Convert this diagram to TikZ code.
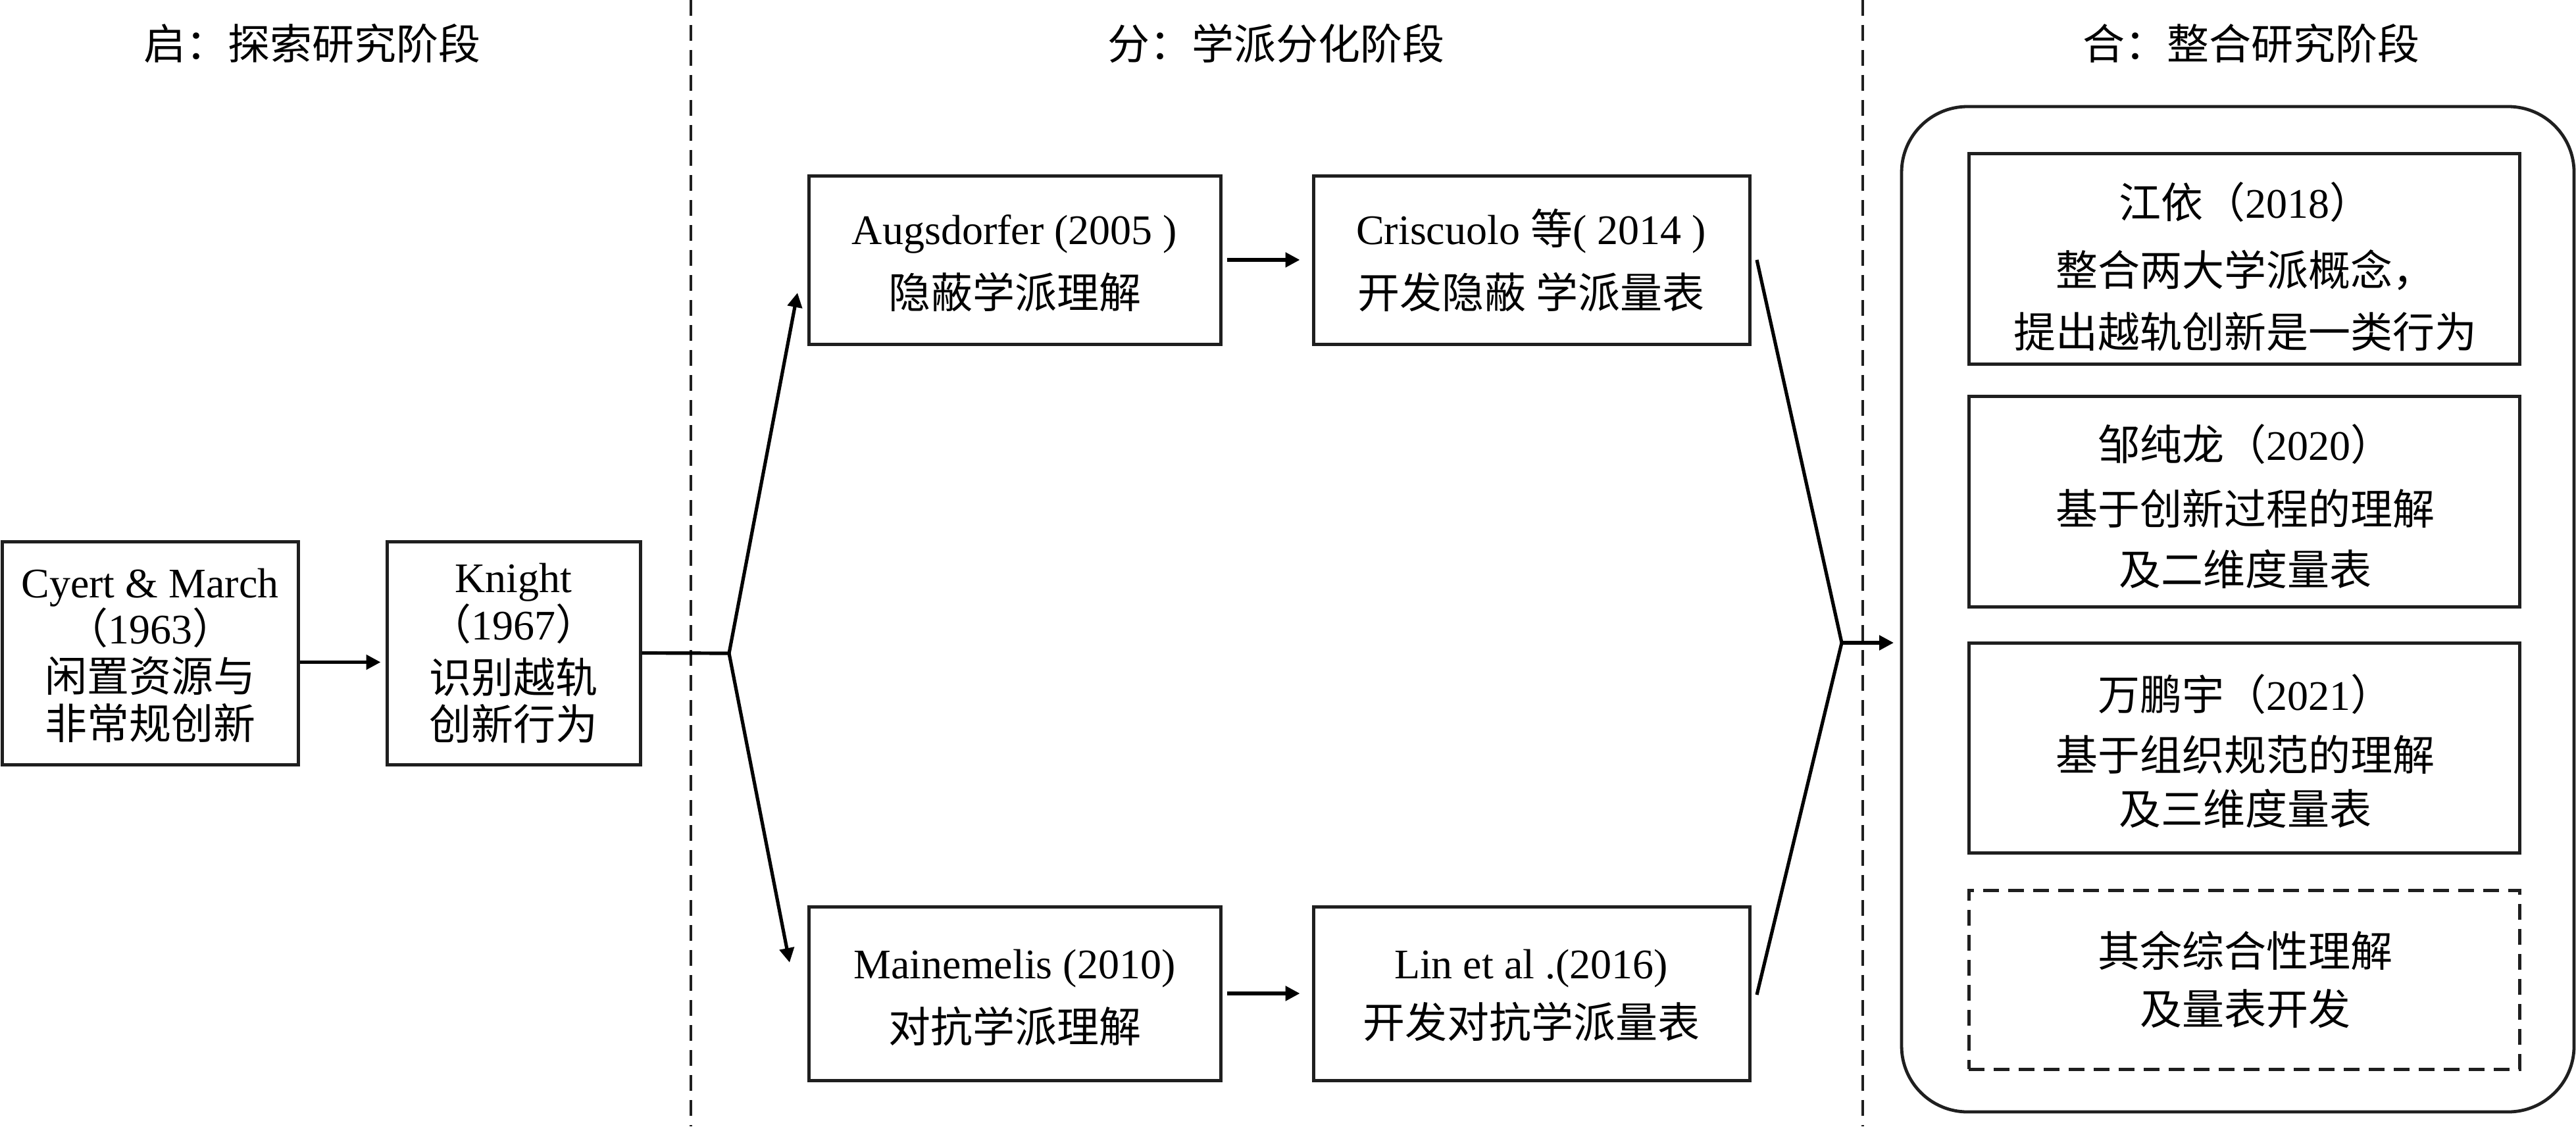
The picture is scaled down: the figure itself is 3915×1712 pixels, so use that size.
\documentclass[tikz,border=0pt]{standalone}
\usepackage{fontspec}
\setmainfont{Liberation Serif}
\newfontfamily\cjk{Noto Sans CJK SC}
\newcommand\zh[1]{{\cjk #1}}
\usetikzlibrary{arrows.meta,fit}
\newcommand\tl[4]{\node[txt] (#1) at (#2,#3) {#4};}
\begin{document}
\begin{tikzpicture}[x=0.25pt,y=-0.25pt,
  box/.style={draw=black!88, line width=1.25pt, inner sep=0pt},
  dbox/.style={box, dash pattern=on 6pt off 3.5pt},
  conn/.style={draw=black, line width=1.3pt},
  arr/.style={conn, -{Triangle[length=5.5pt,width=5.5pt]}},
  divider/.style={draw=black!88, line width=1.2pt, dash pattern=on 6pt off 3.5pt},
  txt/.style={anchor=base, inner sep=0pt, font=\fontsize{16}{19}\selectfont}
  ]
\useasboundingbox (0,0) rectangle (3915,1712);

% headers
\tl{h1}{474}{91}{\zh{启：探索研究阶段}}
\tl{h2}{1939}{91}{\zh{分：学派分化阶段}}
\tl{h3}{3421}{91}{\zh{合：整合研究阶段}}

% dividers
\coordinate (d1t) at (1050,0);
\coordinate (d1b) at (1050,1712);
\coordinate (d2t) at (2831,0);
\coordinate (d2b) at (2831,1712);
\draw[divider] (d1t) -- (d1b);
\draw[divider] (d2t) -- (d2b);

% stage 1
\node[box, fit={(3,823) (453,1162)}] (cyert) {};
\tl{cyert-1}{228}{908}{Cyert \& March}
\tl{cyert-2}{228}{978}{\zh{（}1963\zh{）}}
\tl{cyert-3}{228}{1051}{\zh{闲置资源与}}
\tl{cyert-4}{228}{1123}{\zh{非常规创新}}
\node[box, fit={(588,823) (973,1162)}] (knight) {};
\tl{knight-1}{780}{900}{Knight}
\tl{knight-2}{780}{972}{\zh{（}1967\zh{）}}
\tl{knight-3}{780}{1053}{\zh{识别越轨}}
\tl{knight-4}{780}{1124}{\zh{创新行为}}

% stage 2
\node[box, fit={(1229,267) (1855,523)}] (aug) {};
\tl{aug-1}{1542}{371}{Augsdorfer (2005 )}
\tl{aug-2}{1542}{468}{\zh{隐蔽学派理解}}
\node[box, fit={(1996,267) (2659,523)}] (cris) {};
\tl{cris-1}{2327}{371}{Criscuolo \zh{等}( 2014 )}
\tl{cris-2}{2327}{468}{\zh{开发隐蔽 学派量表}}
\node[box, fit={(1229,1378) (1855,1642)}] (main) {};
\tl{main-1}{1542}{1487}{Mainemelis (2010)}
\tl{main-2}{1542}{1584}{\zh{对抗学派理解}}
\node[box, fit={(1996,1378) (2659,1642)}] (lin) {};
\tl{lin-1}{2327}{1487}{Lin et al .(2016)}
\tl{lin-2}{2327}{1577}{\zh{开发对抗学派量表}}

% stage 3
\node[draw=black!88, line width=1.2pt, rounded corners=25pt, inner sep=0pt,
  fit={(2890,162) (3912,1690)}] (big) {};
\node[box, fit={(2992,234) (3829,553)}] (b1) {};
\tl{b1-1}{3412}{331}{\zh{江依（}2018\zh{）}}
\tl{b1-2}{3412}{434}{\zh{整合两大学派概念，}}
\tl{b1-3}{3412}{528}{\zh{提出越轨创新是一类行为}}
\node[box, fit={(2992,602) (3829,922)}] (b2) {};
\tl{b2-1}{3412}{699}{\zh{邹纯龙（}2020\zh{）}}
\tl{b2-2}{3412}{797}{\zh{基于创新过程的理解}}
\tl{b2-3}{3412}{889}{\zh{及二维度量表}}
\node[box, fit={(2992,977) (3829,1296)}] (b3) {};
\tl{b3-1}{3412}{1079}{\zh{万鹏宇（}2021\zh{）}}
\tl{b3-2}{3412}{1171}{\zh{基于组织规范的理解}}
\tl{b3-3}{3412}{1253}{\zh{及三维度量表}}
\node[dbox, fit={(2992,1353) (3829,1625)}] (b4) {};
\tl{b4-1}{3412}{1469}{\zh{其余综合性理解}}
\tl{b4-2}{3412}{1557}{\zh{及量表开发}}

% connector points
\coordinate (split) at (1108,993);
\coordinate (augin) at (1212,445);
\coordinate (mainin) at (1200,1463);
\coordinate (crisout) at (2670,395);
\coordinate (linout) at (2670,1512);
\coordinate (merge) at (2799,977);
\coordinate (bigin) at (2878,977);

% connectors
\draw[arr, shorten >=1.75pt] ([yshift=-3.5pt]cyert.east) -- ([yshift=-3.5pt]knight.west);
\draw[conn] (knight.east) -- (split);
\draw[arr] (split) -- (augin);
\draw[arr] (split) -- (mainin);
\draw[arr, shorten <=1.75pt, shorten >=4.5pt] (aug.east) -- (cris.west);
\draw[arr, shorten <=1.75pt, shorten >=4.5pt] (main.east) -- (lin.west);
\draw[conn] (crisout) -- (merge) -- (linout);
\draw[arr] (merge) -- (bigin);
\end{tikzpicture}
\end{document}
